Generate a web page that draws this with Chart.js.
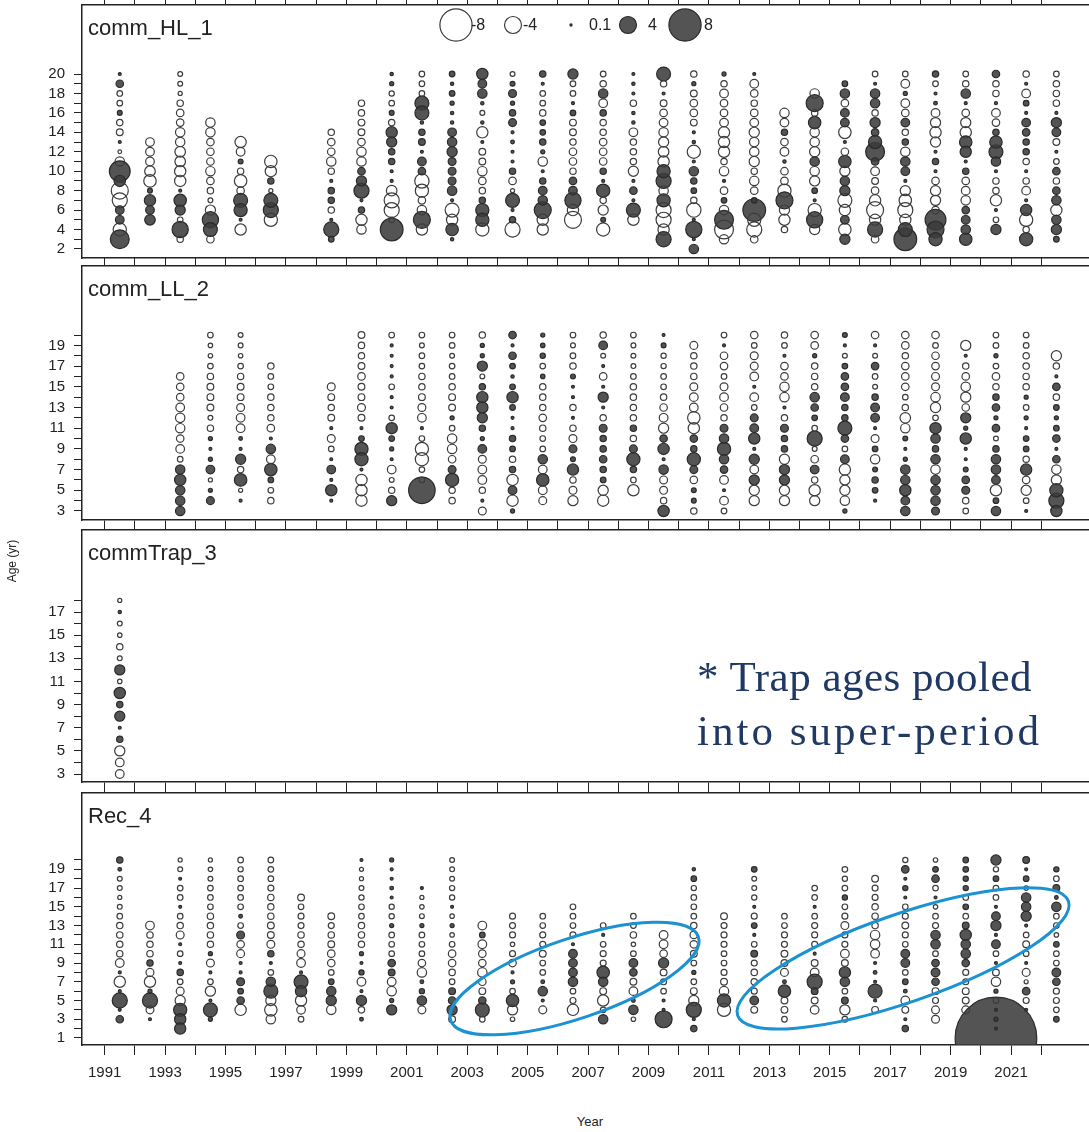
<!DOCTYPE html>
<html>
<head>
<meta charset="utf-8">
<script src="https://cdn.jsdelivr.net/npm/chart.js@4.4.0/dist/chart.umd.min.js"></script>
<style>
  body { margin: 0; background: #fff; width: 1089px; height: 1132px; position: relative; overflow: hidden; font-family: "Liberation Sans", Arial, sans-serif; }
  canvas { position: absolute; left: 0; }
  #c1 { top: -5px; }
  #c2 { top: 256px; }
  #c3 { top: 520px; }
  #c4 { top: 783px; }
  .note { position: absolute; left: 697px; top: 650px; font-family: "Liberation Serif", serif; font-size: 43px; line-height: 54px; color: #1f3864; white-space: nowrap; }
  .note span { display: block; }
  .ylab { position: absolute; left: -18px; top: 554px; width: 60px; text-align: center; font-size: 12px; color: #222; transform: rotate(-90deg); }
  .xlab { position: absolute; left: 560px; top: 1114px; width: 60px; text-align: center; font-size: 13px; color: #222; }
</style>
</head>
<body>
<canvas id="c1" width="1089" height="273"></canvas>
<canvas id="c2" width="1089" height="274"></canvas>
<canvas id="c3" width="1089" height="272"></canvas>
<canvas id="c4" width="1089" height="322"></canvas>
<div class="note"><span style="letter-spacing:0.5px">* Trap ages pooled</span><span style="letter-spacing:3px">into super-period</span></div>
<div class="ylab">Age (yr)</div>
<div class="xlab">Year</div>
<script>
// tick marks / labels
const yearTicks = [];
for (let y = 1991; y <= 2022; y++) yearTicks.push(y);
const yearLabels = [1991, 1993, 1995, 1997, 1999, 2001, 2003, 2005, 2007, 2009, 2011, 2013, 2015, 2017, 2019, 2021];

// legend values
const legendValues = [-8, -4, 0.1, 4, 8];

// comm_HL_1 : residuals listed from the top age downwards
const hlYears = [1991, 1992, 1993, 1994, 1995, 1996, 1998, 1999, 2000, 2001, 2002, 2003, 2004, 2005, 2006, 2007, 2008, 2009, 2010, 2011, 2012, 2013, 2014, 2015, 2016, 2017, 2018, 2019, 2020, 2021, 2022];
const hlTopAge = [20, 13, 20, 15, 13, 11, 14, 17, 20, 20, 20, 20, 20, 20, 20, 20, 20, 20, 20, 20, 20, 16, 18, 19, 20, 20, 20, 20, 20, 20, 20];
const hlResid = [
  [0.3, 1.5, -1, -1, 0.8, -1.2, -1.3, 0.3, -0.5, -2, 5, 2.5, -4, -3.5, 1.8, 1.8, -3, 4.5],
  [-1.8, -1.8, -1.8, -2.3, -2.8, 0.8, 2.5, 1.8, 2.3],
  [-0.8, -0.8, -0.6, -1.2, -1.5, -1.5, -2, -2, -2.3, -2.3, -2.5, -2.5, 0.3, 2.8, 2.2, -1, 3.8, -1.2],
  [-2, -2, -1.5, -1.5, -1.5, -2, -1.5, -1.2, -0.8, -2.2, 3.8, 3.2, -1.5],
  [-2.5, -1.8, 0.8, -1.2, -2.8, -1.5, 3.2, 3, 0.3, -2.5],
  [-2.8, -2.5, 1.2, -0.6, 3.2, 3.5, -3],
  [-1.2, -1.5, -1.5, -2, -1.2, 0.3, 1.2, 1.2, -1.2, 0.3, 3.5, 1],
  [-1.2, -1.2, -1.3, -1.3, -1.5, -2, -2, 1.5, 2.2, 3.5, 0.3, 1.2, -2.5, -2],
  [0.4, 0.6, -0.9, -1, 0.8, -1.2, 2.5, 2.2, 1.2, 1.2, 0.3, 0.3, -2.3, -3.5, -3.5, -1, 5.5],
  [-1, -1, -1, 3.2, 3.2, 0.4, 1.2, 1.3, 0.3, 1.8, 1.5, -3.3, -3, -1.5, -2, 4, -2.5],
  [1, 0.4, 1, 0.6, 0.4, 0.4, 1.8, 2, 2.2, 1.6, 1.6, 1.6, 2, 0.3, -3.2, -2.5, 2.8, 0.4],
  [2.5, 1.8, 2, 0.4, -0.8, 0.4, -2.5, 0.3, -1.3, -1.3, -2, -1.5, -1.2, 1.2, 3, 3, -3],
  [-0.8, 0.8, 1.6, 0.6, 1.2, 1.6, 0.3, 0.5, 0.3, 0.3, 1.2, -1.5, -0.6, 3.2, 0.3, 1.2, -3.5],
  [1.2, 0.3, -1, -1, -1.2, 1, 1, 1.2, 0.6, -2, 0.3, 1.2, 1.8, 2, 4, -2.5, -2.5],
  [2.2, -1, -1, 0.3, 1, -1.3, -1.3, -1.2, -1.5, -1.5, -1.2, 1.5, 1.8, 3.8, -2.5, -4],
  [-1, -1.2, 2, -1.8, 1.2, -1.2, -1.2, -1.5, -1.5, -1.5, 1.2, 0.3, 3, -1.2, -2.2, 0.8, -3],
  [0.3, 0.4, 0.3, -1.2, 0.4, 0.4, -1.8, -1.2, -1.2, -1.2, -2.2, 0.3, 1.5, 0.3, 3.2, -2.5],
  [3.2, -1.2, 0.3, -1.3, -1.5, -1.8, -2, -2.2, -2.3, -2.5, 3, 3.5, -2, 3, -3.5, -3.5, -2.5, 3.5],
  [-1.2, 0.6, -1.3, -1.5, -1.5, -1.3, 0.3, 0.4, -3, 0.3, 2, 1.2, 1, -1.2, -3.3, 0.3, 3.8, 0.3, 2],
  [0.6, -1.2, -1.8, -1.5, -1.5, -1.8, -2.5, -2.5, -2.5, -1.2, -2, 0.3, -1.5, 1, -2, 4.5, -4.5, -2],
  [0.3, -1.8, -1.5, -1.2, -1.5, -1.8, -2.2, -2, -2, -2.2, -1.2, -2, -1.5, 1, 5.5, -3, -3.5, -1.5],
  [-2, -1.8, 1.2, -1.5, -1.8, 0.4, -1.5, -1.5, -3, 4, -2.2, -2.5, -1.2],
  [-2, 4, -1.2, 2.8, -2, -2, -2.2, 2, -2, -2.2, 1, 0.3, -3, 3.8, -2.2],
  [1, 2, -1.5, 1.8, 1.8, -2.8, 0.3, -1.5, 2.8, -2.2, 2, 2.2, -3.2, -2.5, 1.8, -2.8, 2.2],
  [-1, 0.3, 2, 2, -1.2, 2.2, 1.5, 3, 4.5, 1.5, -1.8, -1.3, -1.5, -2.5, -4, -2.5, 3.5, -1.5],
  [-1, -1.8, 0.6, -1.8, -1.5, 1.8, -1.2, 1.2, -2, 2, 1.8, 0.3, -2.2, -2.8, -3.5, -2.5, 3.2, 5.5],
  [1.2, -1, 0.3, 0.5, -1.8, -2.2, -2.5, -2.2, 0.3, 1.2, 0.3, -1.5, -2.2, -2.2, -1.5, 5, 4, 3],
  [-1, -1.2, 2, 0.3, -1.5, -2.2, -2.5, 2.8, 2.5, 0.3, 1.2, -1.5, -1.8, -2, 1.5, 1.8, 2, 2.8],
  [1.5, -1.2, -1.2, 0.3, -1.8, -1.5, 1.2, 2.8, 3.2, 2, 0.3, -1.2, -1.2, -2.5, 0.3, -1, 2.2],
  [-1.2, 0.3, -1.8, 1, 0.3, 1.8, 1.5, 1.2, 1.2, -1.2, 0.3, -1.2, -1.8, 0.3, 2.5, -3, -1.2, 3],
  [-1, -1.2, -1.2, -1.2, 0.3, 2.2, 1.8, -1.3, 0.3, -1, 1.5, -1.2, 1.5, 2, -2.5, 2, 2.2, 1]
];

// comm_LL_2
const llYears = [1993, 1994, 1995, 1996, 1998, 1999, 2000, 2001, 2002, 2003, 2004, 2005, 2006, 2007, 2008, 2009, 2010, 2011, 2012, 2013, 2014, 2015, 2016, 2017, 2018, 2019, 2020, 2021, 2022];
const llTopAge = [16, 20, 20, 17, 15, 20, 20, 20, 20, 20, 20, 20, 20, 20, 20, 20, 19, 20, 20, 20, 20, 20, 20, 20, 20, 19, 20, 20, 18];
const llResid = [
  [-1.5, -1.5, -1.5, -1.8, -2, -2, -1.5, -1.8, -1, 2, 2.5, 2, 2, 2],
  [-1, -0.7, -0.7, -1, -1.2, -1.3, -1.3, -1.3, -0.8, -1.2, 0.6, 0.3, 0.6, 1.8, -0.6, 0.6, 1.6],
  [-0.8, -0.8, -0.7, -1, -1.2, -1.3, -1.3, -1.6, -1.8, -1.8, 0.5, 0.3, 2.2, -1.2, 2.8, -0.6, 0.3],
  [-1.2, -1, -1, -1.2, -1.2, -1.2, -1.5, 0.3, 2, -1.8, 2.8, 1, -1, -1.2],
  [-1.6, -1.3, -1.2, -1.3, 0.3, -1.6, -1, 0.3, 1.8, 0.3, 2.5, 0.3],
  [-1.3, -1.2, -1.2, -1.3, -1.5, -1.3, -1.3, -1.6, -1.3, 0.3, 1, 3, 3, 0.3, -2.5, -2.5, -2.5],
  [-1, 0.3, 0.3, 0.3, 0.3, -1, 0.3, 0.3, -1, 2.5, 1, 0.6, 0.3, -1.8, -0.8, -1.2, 2.2],
  [-1, -0.8, -1, -1, -1.2, -1.2, -1.3, -1.6, -1.8, 0.3, -1, -3, -3, -1, -1, 6.5],
  [-1, -1, -0.8, -1, -1, -1.2, -1.3, -1.3, 0.6, -1, -2, -2, -1.5, 1.6, 3, -1.2, -1.2],
  [-1.2, 0.6, 0.6, 2.2, -0.8, 1.2, 2.5, 2.5, 2.2, 1.2, 0.6, 1.8, -1.6, -1.8, -1.8, -1.2, 0.3, -1.6],
  [1.5, 0.3, 1.5, 1, 0.4, 1, 2.5, 1, 0.3, 0.3, 1.2, 1, -1.2, 1.2, -2.5, 1.8, -2.5, 0.6],
  [0.6, 0.7, 0.9, -1, 0.7, -1.2, -1.2, -1.2, -1.5, -1.2, -1, -1, 2, -1.8, 2.8, -1.8, -1.6],
  [-1, -0.8, -1, -1.2, 0.8, 0.3, 0.3, -1.2, 0.3, -1.2, -1.6, 1.6, 0.8, 2.5, -1.2, -1.6, -2.2],
  [-1.2, 1.8, -0.8, 0.3, -1.5, 0.3, 2.2, 0.3, -1.2, 1.6, 1.2, 1.2, 1.5, 1.2, 1, -2.2, -2.5],
  [-1, -0.8, -0.8, -0.8, -1, -1.2, -1.2, -1.2, -1.2, 1.2, -1.2, 1.6, 3, 1.2, -1, -2.5],
  [0.3, 0.8, -0.9, -0.9, -1, -1, -1.2, -1.5, -1.8, -2.2, 1.5, 2.5, 0.3, 2, -1.6, -1.6, -1.2, 2.5],
  [-1.6, -1.2, -1.2, -1.2, -1.6, -1.8, -1.8, -2.8, -2.5, 1.5, 1.2, 3, 1.6, -1.5, 0.8, 0.8, -1.2],
  [-1, 0.3, -1.5, -1.5, -1, -1.6, -1.8, -1.5, -1.2, 1.6, 2, 3, 2, 1.5, -1.8, 0.3, -1.8, -1],
  [-1.5, -1, -1.6, -1.6, -1.8, 0.3, -1.8, -1, 1.6, 1.8, 2.5, 0.3, 2.2, -1.8, 2.2, -2.2, -2.2],
  [-1.2, -1, 0.3, -1.5, -1.5, -2, -2, 0.3, -1.2, 1.6, 1.2, 1.2, -2.2, 2.2, 2.2, -2.2, -2.2],
  [-1.5, -1.5, 0.6, -1.2, -1.2, -1.2, 2, 1.5, 1, -1, 3.5, -0.8, -1.5, 1.8, -1.2, -2.5, -2.2],
  [0.8, 0.3, -0.8, 1, 1.5, 1.5, 1.8, 1.2, 1.2, 3.2, 1.5, -1, 1.8, -2.5, -2.2, -2.2, -2, 0.6],
  [-1.5, 0.3, -0.8, 1.5, -1, -0.8, 1.2, 1.8, 1.8, 0.3, -1.6, 1, -2, 0.8, 1.2, 1, 0.3],
  [-1.5, -1.5, -1.2, -1.5, -1.5, -1.5, -1, -1.2, -2.3, -2, 0.8, 0.3, 0.6, 2, 2, 2.5, 1.8, 2],
  [-1.5, -1, -1.5, -1.5, -1.6, -1.6, -2, -2.2, -1, 2.5, 2, 1.2, 2, -2, 2, 2, 2, 1.6],
  [-2.2, 0.3, -1.2, -1.5, -2, -2.2, -1.5, 2.2, 0.6, 2.5, 0.3, 0.3, 0.8, 1.5, 1.6, -1.2, -1],
  [-1, -1, 0.6, -1, -1.5, -1.2, 1.2, 1.5, 0.6, 1.5, -0.8, 1.2, 2, 2, 1.8, -2.5, 1, 2],
  [-1, -1, -1.2, -1.2, -1.2, -1.2, 0.6, -1, 0.6, 0.3, 1, 1, -1.2, 2.5, -1.5, -2.2, -1, 0.3],
  [-2.2, -1.2, 0.3, 1.5, -1.2, 1, 0.6, 1, 1.5, 0.3, 1.5, -2, -2.2, 3, 3.5, 2.5]
];

// commTrap_3 (pooled super-period)
const trapYears = [1991];
const trapTopAge = [18];
const trapResid = [
  [-0.6, 0.4, -0.8, -0.7, -1.2, -0.8, 2.2, -0.7, 2.5, 1.2, 2.2, 0.3, 1.2, -2.2, -1.8, -1.8]
];

// Rec_4
const recYears = [1991, 1992, 1993, 1994, 1995, 1996, 1997, 1998, 1999, 2000, 2001, 2002, 2003, 2004, 2005, 2006, 2007, 2008, 2009, 2010, 2011, 2012, 2013, 2014, 2015, 2016, 2017, 2018, 2019, 2020, 2021, 2022];
const recTopAge = [20, 13, 20, 20, 20, 20, 16, 14, 20, 20, 17, 20, 13, 14, 14, 15, 13, 14, 12, 19, 14, 19, 14, 17, 19, 18, 20, 20, 20, 20, 20, 19];
const recResid = [
  [1.2, 0.5, -0.8, -0.8, -0.6, -0.8, -1, -1.2, -1.2, -1.2, -1.2, -1.8, 0.3, -2.5, 0.3, 3.5, 0.3, 1.5],
  [-1.8, -1.2, -1.2, -1.2, 1.2, -1.6, -2.5, 0.6, 3.5, -1.6, 0.3],
  [-0.6, -0.8, 0.3, -1, -1, 0.3, -1, -1.2, -1.6, 0.3, -1, 0.3, 1.2, -1, -1.6, -2.2, 3, 2.5, 2.5],
  [-0.6, -0.7, -0.8, -1, -1, -1, -1.2, -1.2, -1.2, -1.2, 0.6, -1.6, 0.3, -1, -2.2, 0.3, 3.2, 0.6],
  [-1, -0.9, -1, -1, -1, -1, 0.5, -1, 1.6, -1.5, -1.6, 0.3, 0.3, 1.6, 1, 1.5, -2.5],
  [-1, -1, -1, -1.1, -1.2, -1.2, -1.2, -1.3, -1.3, -1.6, 1.2, 0.3, -1, 2, 3.2, -2.2, -2.8, -2],
  [-1.3, -1, -1.1, -1.1, -1.2, -1.2, -1.6, -1.8, 0.3, 3.2, 2.5, -2.5, -1.8, -1],
  [-1.3, -1.1, -1.2, -1.3, -1.5, -1.5, -1, 1, 2, 2.2, -2],
  [0.3, -0.6, -0.6, -0.8, -0.9, -1, -1, -1.2, -1.2, -1.2, 0.6, 0.3, 0.9, -1.8, 0.3, 2.2, -1.2, 0.5],
  [0.6, 0.3, 0.3, 0.5, 0.3, -0.9, -0.9, 0.6, -1, -1, -1, 1.5, 1.3, -1.8, -2, 0.6, 2.2],
  [0.3, -0.6, -0.7, -0.8, 0.6, -1, -1, -1, -1.5, -2, 0.5, 0.9, 2, -1.6],
  [-0.8, -0.8, -0.8, -0.9, -0.9, 0.3, -0.7, 0.6, -0.7, -1, -1.5, -1.5, -1.2, -1, 1.3, 1.5, 2.2, -1.3],
  [-1.8, 1, -1.8, -1.5, -1.5, -2, -1.5, -1.3, 1.5, 3.2, -1],
  [-1.1, -1.1, -1.1, -0.7, -1.1, -1.5, 0.3, 0.6, -1, 2.8, -2.2, -0.7],
  [-1, -1, -1.1, -1.1, -1.3, -1, -1, 0.5, 2, 0.3, -1.6],
  [-1, -1, -1, -1.1, 0.3, 1.8, 1.8, 1.8, 2, -1, -1.1, -2.5],
  [-1, 0.3, -1, -1.1, -1.1, 2.8, 2, -1.3, -2.5, -1, 2],
  [-1, -1, -1.2, -0.7, -1, 1.8, 1.5, -1.3, -1.8, 0.5, 2, -0.7],
  [-1.8, -1.8, -1.5, 2.2, -1.3, -1.1, -1, 0.3, 0.3, 4],
  [0.4, 1, -0.9, -1, -1, -1, -1.2, -1.5, -1.5, -1.3, -1, 0.6, -1, -1.3, -2.2, 3.5, 0.3, 1.2],
  [-1.3, -1.1, -1.1, -1.1, -1, -1, -1.1, -1.3, -2, 3, -3],
  [1, -0.8, -0.8, -0.9, 0.3, -1.1, 1, 0.3, -1, 1.3, -1.1, -1.2, -1.2, -1.1, 1.8, -1.3],
  [-1, -1, -1.1, -1.1, -1.3, -1.3, -1.6, 0.5, 2.8, -1.3, -1.3, -1],
  [-1, -1, 0.3, -1, -1.1, -1.1, -1.1, 0.3, -1.3, -1.8, 3.5, 1.3, -1.3, -1.8],
  [-1, -0.9, -1, 0.9, -1, -1.1, -1.6, -1.1, -1.1, -1.8, -1.3, 2.5, 2, -1, 1.3, -2.2, -1],
  [-1.3, -1.1, -1.1, -1.2, -1.2, -1.2, -2, -2, -1.8, 0.3, 0.5, 0.3, 3.2, 0.3, -1.3],
  [-0.9, 1.5, 0.3, 0.9, 0.3, -1, -1.1, -1.3, -1.1, -1, 1.8, 1.8, -1, 1, 0.5, -1.8, -1.3, 0.3, 1.2],
  [-0.7, 1, 1.5, -1, 0.3, -0.7, -1, -1.1, 2, 2, -1, 1.5, 1.8, 1.5, -1.3, -1.1, -1.6, -1.6],
  [1, 1, 0.9, 0.9, -1, 1, -1, 1.3, 2.5, 2, 2, 1.5, -1.1, -1.1, -1.3, -1.3, -1.6],
  [2.2, -0.9, 1, -1, -1, 0.3, 1.8, 2.2, 0.3, 1.8, -1, 0.3, -1.3, -2, 0.6, -1, 0.3, 0.6, 0.3, 21],
  [1.3, 0.3, 1, -0.7, 2, 2, 2.2, 0.3, -1, -1.3, -1, 0.3, -1.6, -0.6, 1.5, -1.1, 0.3],
  [0.9, -1, 1.3, 0.5, 2, -1, -1, -0.7, 1, -1, -1, 1.8, 1.5, -1.1, -1.1, -1, 1]
];

const FILL = "rgba(60,60,60,0.88)";
const INK = "#222";
const OPEN_EDGE = "#3c3c3c";

function bubbleRadius(v) {
  return 1.9 * Math.abs(v) + 0.9;
}

function buildPoints(years, topAges, resid) {
  const pts = [];
  years.forEach((yr, i) => {
    resid[i].forEach((v, j) => {
      pts.push({ x: yr + 0.5, y: topAges[i] - j, v });
    });
  });
  // big ones first so small ones stay visible on top
  return pts.sort((a, b) => Math.abs(b.v) - Math.abs(a.v));
}

function ageTicks(lo, hi) {
  const out = [];
  for (let a = lo; a <= hi; a++) out.push({ value: a });
  return out;
}

// keep the plot frame exactly where the layout puts it
function noPad(s) {
  s.paddingLeft = 0;
  s.paddingRight = 0;
  s.paddingTop = 0;
  s.paddingBottom = 0;
}

function titlePlugin(text) {
  return {
    id: "panelTitle",
    afterDraw(chart) {
      const { ctx, chartArea } = chart;
      ctx.save();
      ctx.fillStyle = INK;
      ctx.font = "22px 'Liberation Sans', Arial, sans-serif";
      ctx.textBaseline = "alphabetic";
      ctx.fillText(text, chartArea.left + 6, chartArea.top + 30);
      ctx.restore();
    }
  };
}

const legendPlugin = {
  id: "bubbleLegend",
  afterDraw(chart) {
    const ctx = chart.ctx;
    const cx = [456, 513, 571, 628, 685];
    const tx = [471, 523, 589, 648, 704];
    const cy = chart.chartArea.top + 20;
    ctx.save();
    legendValues.forEach((v, i) => {
      ctx.beginPath();
      ctx.arc(cx[i], cy, bubbleRadius(v), 0, Math.PI * 2);
      if (v > 0) {
        ctx.fillStyle = FILL;
        ctx.fill();
        ctx.strokeStyle = "#2a2a2a";
      } else {
        ctx.strokeStyle = OPEN_EDGE;
      }
      ctx.lineWidth = 1.2;
      ctx.stroke();
      ctx.fillStyle = INK;
      ctx.font = "16px 'Liberation Sans', Arial, sans-serif";
      ctx.textBaseline = "middle";
      ctx.fillText(String(v), tx[i], cy + 1);
    });
    ctx.restore();
  }
};

// highlighted cohorts in Rec_4, given in (year, age) units
const cohortRings = [
  { from: [2002.45, 2.9], to: [2010.65, 11.8], halfWidth: 40 },
  { from: [2011.95, 3.4], to: [2022.9, 15.6], halfWidth: 44 }
];

const ringPlugin = {
  id: "cohortRings",
  afterDraw(chart) {
    const { ctx, scales } = chart;
    ctx.save();
    ctx.strokeStyle = "#1b92d2";
    ctx.lineWidth = 3;
    cohortRings.forEach(r => {
      const x1 = scales.x.getPixelForValue(r.from[0]);
      const y1 = scales.y.getPixelForValue(r.from[1]);
      const x2 = scales.x.getPixelForValue(r.to[0]);
      const y2 = scales.y.getPixelForValue(r.to[1]);
      const half = Math.hypot(x2 - x1, y2 - y1) / 2;
      ctx.beginPath();
      ctx.ellipse((x1 + x2) / 2, (y1 + y2) / 2, half, r.halfWidth, Math.atan2(y2 - y1, x2 - x1), 0, Math.PI * 2);
      ctx.stroke();
    });
    ctx.restore();
  }
};

function createPanel(canvasId, cfg) {
  const ctx = document.getElementById(canvasId).getContext("2d");
  const axisLine = { display: true, color: INK, width: 1.5 };
  return new Chart(ctx, {
    type: "scatter",
    data: {
      datasets: [{
        data: cfg.points,
        clip: 0,
        pointRadius: c => (c.raw ? bubbleRadius(c.raw.v) : 2),
        pointHoverRadius: c => (c.raw ? bubbleRadius(c.raw.v) : 2),
        pointBackgroundColor: c => (c.raw && c.raw.v > 0 ? FILL : "rgba(255,255,255,0)"),
        pointBorderColor: c => (c.raw && c.raw.v > 0 ? "#2a2a2a" : OPEN_EDGE),
        pointBorderWidth: 1.2
      }]
    },
    options: {
      responsive: false,
      animation: false,
      events: [],
      devicePixelRatio: 1,
      layout: { padding: 0, autoPadding: false },
      plugins: { legend: { display: false }, tooltip: { enabled: false } },
      scales: {
        x: {
          type: "linear",
          position: "bottom",
          min: 1990.25,
          max: 2023.58,
          afterBuildTicks: s => { s.ticks = yearTicks.map(v => ({ value: v })); },
          afterFit: s => { s.height = cfg.bottomHeight; noPad(s); },
          ticks: {
            autoSkip: false,
            maxRotation: 0,
            padding: 9,
            color: INK,
            font: { size: 15 },
            callback: v => (cfg.showYears && yearLabels.includes(v) ? String(v) : "")
          },
          grid: { drawOnChartArea: false, tickLength: cfg.showYears ? 10 : 8, color: INK, tickWidth: 1 },
          border: axisLine
        },
        xt: {
          type: "linear",
          axis: "x",
          position: "top",
          min: 1990.25,
          max: 2023.58,
          afterBuildTicks: s => { s.ticks = yearTicks.map(v => ({ value: v })); },
          afterFit: s => { s.height = 10; noPad(s); },
          ticks: { display: false },
          grid: { drawOnChartArea: false, tickLength: 8, color: INK, tickWidth: 1 },
          border: axisLine
        },
        y: {
          type: "linear",
          position: "left",
          min: cfg.yMin,
          max: cfg.yMax,
          afterBuildTicks: s => { s.ticks = ageTicks(cfg.tickLo, cfg.tickHi); },
          afterFit: s => { s.width = 82; noPad(s); },
          ticks: {
            autoSkip: false,
            padding: 9,
            color: INK,
            font: { size: 15 },
            callback: v => ((v - cfg.labelFrom) % 2 === 0 ? String(v) : "")
          },
          grid: { drawOnChartArea: false, tickLength: 8, color: INK, tickWidth: 1 },
          border: axisLine
        }
      }
    },
    plugins: [titlePlugin(cfg.title)].concat(cfg.extra || [])
  });
}

createPanel("c1", {
  title: "comm_HL_1",
  points: buildPoints(hlYears, hlTopAge, hlResid),
  yMin: 1.07, yMax: 27.1, tickLo: 2, tickHi: 20, labelFrom: 2,
  bottomHeight: 10, showYears: false, extra: [legendPlugin]
});

createPanel("c2", {
  title: "comm_LL_2",
  points: buildPoints(llYears, llTopAge, llResid),
  yMin: 2.13, yMax: 26.67, tickLo: 3, tickHi: 20, labelFrom: 3,
  bottomHeight: 10, showYears: false
});

createPanel("c3", {
  title: "commTrap_3",
  points: buildPoints(trapYears, trapTopAge, trapResid),
  yMin: 2.31, yMax: 24.09, tickLo: 3, tickHi: 18, labelFrom: 3,
  bottomHeight: 10, showYears: false
});

createPanel("c4", {
  title: "Rec_4",
  points: buildPoints(recYears, recTopAge, recResid),
  yMin: 0.25, yMax: 27.15, tickLo: 1, tickHi: 20, labelFrom: 1,
  bottomHeight: 60, showYears: true, extra: [ringPlugin]
});
</script>
</body>
</html>
